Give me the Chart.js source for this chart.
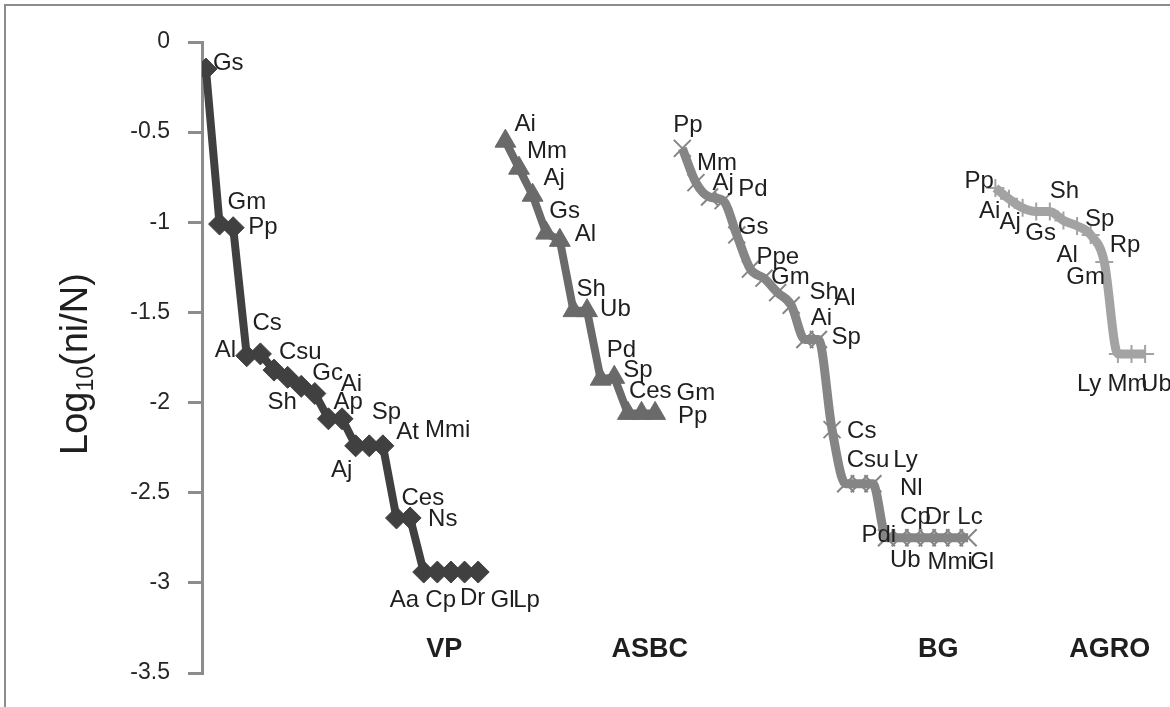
<!DOCTYPE html>
<html>
<head>
<meta charset="utf-8">
<script src="https://cdn.jsdelivr.net/npm/chart.js@4.4.1/dist/chart.umd.min.js"></script>
<style>
    html, body { margin: 0; padding: 0; background: #fff; }
    #wrap { position: relative; width: 1170px; height: 707px; }
</style>
</head>
<body>
<div id="wrap"><canvas id="rankChart" width="1170" height="707"></canvas></div>
<script>
// Species rank / abundance per site (log10 of relative abundance)
const vpNames = ['Gs', 'Gm', 'Pp', 'Al', 'Cs', 'Csu', 'Sh', 'Gc', 'Ai', 'Ap', 'Aj', 'Sp', 'At', 'Mmi', 'Ces', 'Ns', 'Aa', 'Cp', 'Dr', 'Gl', 'Lp'];
const vpValues = [-0.15, -1.01, -1.03, -1.74, -1.73, -1.82, -1.86, -1.91, -1.95, -2.09, -2.09, -2.24, -2.24, -2.24, -2.64, -2.64, -2.94, -2.94, -2.94, -2.94, -2.94];

const asbcNames = ['Ai', 'Mm', 'Aj', 'Gs', 'Al', 'Sh', 'Ub', 'Pd', 'Sp', 'Ces', 'Gm', 'Pp'];
const asbcValues = [-0.55, -0.7, -0.85, -1.06, -1.1, -1.49, -1.49, -1.87, -1.86, -2.06, -2.06, -2.06];

const bgNames = ['Pp', 'Mm', 'Aj', 'Pd', 'Gs', 'Ppe', 'Gm', 'Sh', 'Al', 'Ai', 'Sp', 'Cs', 'Csu', 'Ly', 'Nl', 'Pdi', 'Cp', 'Dr', 'Lc', 'Ub', 'Mmi', 'Gl'];
const bgValues = [-0.59, -0.78, -0.86, -0.88, -1.07, -1.26, -1.31, -1.39, -1.46, -1.65, -1.65, -2.15, -2.45, -2.45, -2.45, -2.75, -2.75, -2.75, -2.75, -2.75, -2.75, -2.75];

const agroNames = ['Pp', 'Ai', 'Aj', 'Gs', 'Sh', 'Al', 'Sp', 'Rp', 'Gm', 'Ly', 'Mm', 'Ub'];
const agroValues = [-0.81, -0.87, -0.92, -0.94, -0.94, -0.99, -1.02, -1.07, -1.22, -1.73, -1.73, -1.73];

// Site names and the rank slot where each site's curve starts
const siteNames = ['VP', 'ASBC', 'BG', 'AGRO'];
const siteStart = [0, 22, 35, 58];
const yTicks = [0, -0.5, -1, -1.5, -2, -2.5, -3, -3.5];

// Label placement (pixel nudges from each point)
const vpLabelPos = [[7, -6], [8, -22], [15, 0], [-32, -5], [-8, -31], [5, -18], [-20, 25], [11, -13], [26, -9], [5, -16], [-11, 52], [16, -33], [27, -13], [42, -15], [5, -20], [18, 1], [-34, 28], [-12, 28], [9, 26], [26, 28], [35, 28]];
const asbcLabelPos = [[9, -17], [8, -17], [11, -17], [3, -22], [15, -6], [3, -21], [13, -1], [6, -29], [9, -7], [1, -22], [35, -20], [23, 3]];
const bgLabelPos = [[-9, -23], [1, -19], [3, -14], [15, -11], [1, -8], [6, -12], [7, -1], [32, 0], [43, -7], [6, -21], [13, -2], [15, 2], [1, -23], [34, -23], [27, 5], [-25, -2], [0, -20], [11, -20], [30, -20], [-51, 23], [-27, 25], [2, 25]];
const agroLabelPos = [[-31, -7], [-30, 13], [-23, 15], [-11, 22], [0, -20], [-7, 35], [8, -7], [19, 10], [-38, 15], [-41, 30], [-24, 30], [-4, 30]];
const siteLabelAt = [[17.5, -3.37], [32.6, -3.37], [53.8, -3.37], [66.4, -3.37]];

const FONT = '"Liberation Sans", Arial, sans-serif';

function toPoints(start, values) {
    return values.map((v, i) => ({ x: start + i, y: v }));
}

const labelPlugin = {
    id: 'labelPlugin',
    beforeDraw(chart) {
        const c = chart.ctx;
        c.save();
        c.fillStyle = '#fff';
        c.fillRect(0, 0, chart.width, chart.height);
        c.strokeStyle = '#8c8c8c';
        c.lineWidth = 2;
        c.beginPath();
        c.moveTo(5, chart.height);
        c.lineTo(5, 5);
        c.lineTo(chart.width, 5);
        c.stroke();
        c.restore();
    },
    afterDatasetsDraw(chart) {
        const c = chart.ctx;
        c.save();
        c.font = '24px ' + FONT;
        c.fillStyle = '#1f1f1f';
        c.textAlign = 'left';
        c.textBaseline = 'middle';
        chart.data.datasets.forEach((ds, di) => {
            const meta = chart.getDatasetMeta(di);
            meta.data.forEach((pt, i) => {
                const off = ds.labelPos[i];
                c.fillText(ds.names[i], pt.x + off[0], pt.y + off[1]);
            });
        });

        // site names
        c.font = 'bold 27px ' + FONT;
        c.textAlign = 'center';
        siteNames.forEach((name, i) => {
            const x = chart.scales.x.getPixelForValue(siteLabelAt[i][0]);
            const y = chart.scales.y.getPixelForValue(siteLabelAt[i][1]);
            c.fillText(name, x, y);
        });

        // y axis title with subscript
        c.translate(77, 364);
        c.rotate(-Math.PI / 2);
        c.textAlign = 'left';
        c.textBaseline = 'middle';
        const big = '38px ' + FONT, small = '23px ' + FONT;
        c.font = big;
        const w1 = c.measureText('Log').width;
        const w3 = c.measureText('(ni/N)').width;
        c.font = small;
        const w2 = c.measureText('10').width;
        let x = -(w1 + w2 + w3) / 2;
        c.font = big;
        c.fillText('Log', x, 0);
        x += w1;
        c.font = small;
        c.fillText('10', x, 10);
        x += w2;
        c.font = big;
        c.fillText('(ni/N)', x, 0);
        c.restore();
    }
};

const ctx = document.getElementById('rankChart').getContext('2d');

new Chart(ctx, {
    type: 'line',
    data: {
        datasets: [{
            label: siteNames[0],
            names: vpNames,
            labelPos: vpLabelPos,
            data: toPoints(siteStart[0], vpValues),
            borderColor: '#404040',
            backgroundColor: '#404040',
            borderWidth: 8,
            tension: 0,
            pointStyle: 'rectRot',
            pointRadius: 11,
            pointBorderWidth: 1
        }, {
            label: siteNames[1],
            names: asbcNames,
            labelPos: asbcLabelPos,
            data: toPoints(siteStart[1], asbcValues),
            borderColor: '#6a6a6a',
            backgroundColor: '#6a6a6a',
            borderWidth: 8,
            tension: 0,
            pointStyle: 'triangle',
            pointRadius: 12,
            pointBorderWidth: 1
        }, {
            label: siteNames[2],
            names: bgNames,
            labelPos: bgLabelPos,
            data: toPoints(siteStart[2], bgValues),
            borderColor: '#858585',
            backgroundColor: '#858585',
            borderWidth: 9,
            cubicInterpolationMode: 'monotone',
            pointStyle: 'crossRot',
            pointRadius: 12,
            pointBorderWidth: 2
        }, {
            label: siteNames[3],
            names: agroNames,
            labelPos: agroLabelPos,
            data: toPoints(siteStart[3], agroValues),
            borderColor: '#a3a3a3',
            backgroundColor: '#a3a3a3',
            borderWidth: 9,
            cubicInterpolationMode: 'monotone',
            pointStyle: 'cross',
            pointRadius: 9,
            pointBorderWidth: 2
        }]
    },
    options: {
        responsive: false,
        animation: false,
        layout: { padding: { top: 42, bottom: 34, left: 0, right: 5 } },
        scales: {
            x: {
                type: 'linear',
                display: false,
                min: -0.29,
                max: 69.8
            },
            y: {
                min: -3.5,
                max: 0,
                afterFit: scale => { scale.width = 202; },
                afterBuildTicks: scale => { scale.ticks = yTicks.map(v => ({ value: v })); },
                ticks: {
                    color: '#262626',
                    padding: 18,
                    font: { family: FONT, size: 23 },
                    callback: value => String(value)
                },
                grid: {
                    drawOnChartArea: false,
                    drawTicks: true,
                    tickLength: 14,
                    color: '#8c8c8c',
                    lineWidth: 3
                },
                border: { display: true, color: '#8c8c8c', width: 3 }
            }
        },
        plugins: {
            legend: { display: false },
            tooltip: { enabled: false }
        }
    },
    plugins: [labelPlugin]
});
</script>
</body>
</html>
